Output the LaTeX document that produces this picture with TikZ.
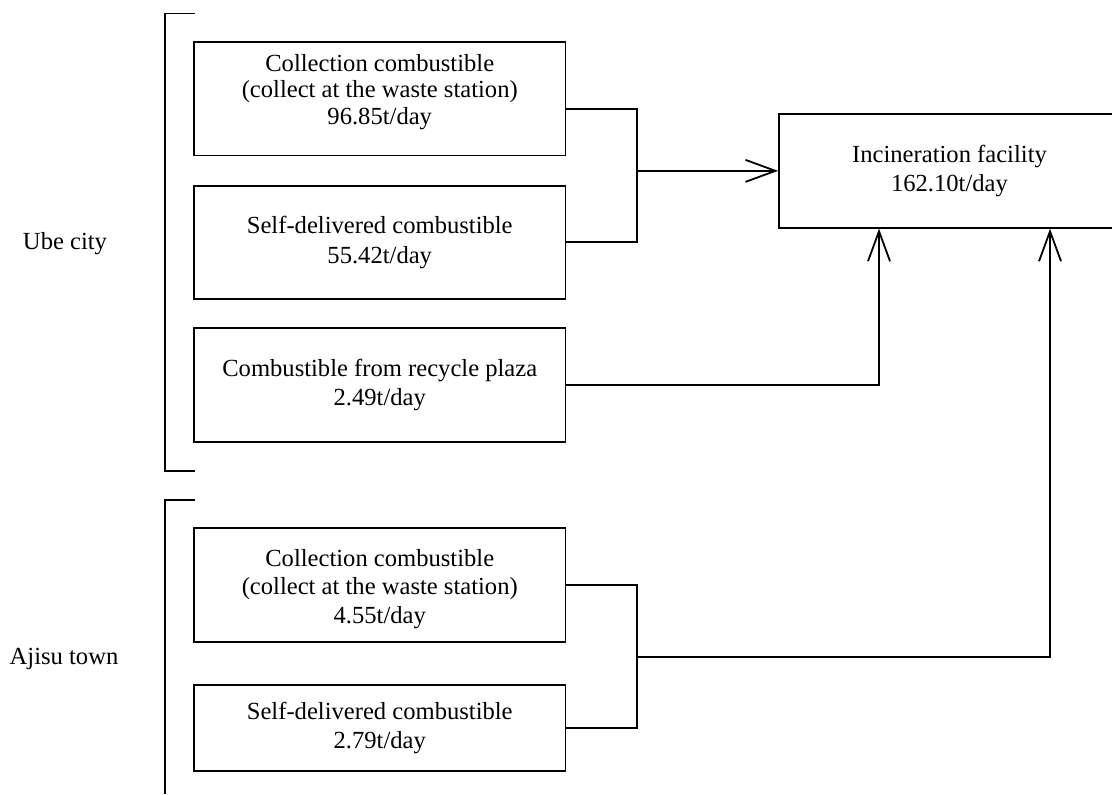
\documentclass[tikz,border=0pt]{standalone}
\usepackage{fontspec}
\setmainfont{Liberation Serif}
\usetikzlibrary{arrows.meta}
\begin{document}
\begin{tikzpicture}[x=0.5pt,y=-0.5pt,
  line width=0.9pt,
  every node/.style={font=\fontsize{12.3pt}{14.75pt}\selectfont},
  box/.style={draw, line width=0.9pt, align=center, inner sep=0pt},
  txt/.style={align=center, inner sep=0pt},
  arr/.style={-{Straight Barb[length=15pt,width=11pt,line width=0.9pt]}}
]
\useasboundingbox (0,0) rectangle (1112,794);
% brackets
\coordinate (ubeT) at (195,13.5);
\coordinate (ubeB) at (195,471);
\coordinate (ajiT) at (195,500);
\coordinate (ajiB) at (165,794);
\draw (ubeT) -- (165,13.5) -- (165,471) -- (ubeB);
\draw (ajiT) -- (165,500) -- (ajiB);
% group labels
\node[txt, anchor=base] (ube) at (65,249) {Ube city};
\node[txt, anchor=base] (ajisu) at (64,664) {Ajisu town};
% boxes
\node[box, minimum width=185.75pt, minimum height=56.75pt] (b1) at (379.75,98.75) {};
\node[txt, font=\fontsize{12.3pt}{13.3pt}\selectfont] (t1) at (379.75,92) {Collection combustible\\(collect at the waste station)\\96.85t/day};
\node[box, minimum width=185.75pt, minimum height=56.65pt] (b2) at (379.75,242.35) {Self-delivered combustible\\55.42t/day};
\node[box, minimum width=185.75pt, minimum height=57pt] (b3) at (379.75,385) {Combustible from recycle plaza\\2.49t/day};
\node[box, minimum width=185.75pt, minimum height=56.85pt] (b4) at (379.75,584.85) {};
\node[txt, font=\fontsize{12.3pt}{14.2pt}\selectfont] (t4) at (379.75,589) {Collection combustible\\(collect at the waste station)\\4.55t/day};
\node[box, minimum width=185.75pt, minimum height=42.85pt] (b5) at (379.75,727.85) {Self-delivered combustible\\2.79t/day};
\node[box, minimum width=170.5pt, minimum height=56.85pt] (inc) at (949.5,170.85) {Incineration facility\\162.10t/day};
% junctions
\coordinate (j1) at (637,170.85);
\coordinate (j2) at (637,657);
% connectors
\draw ([yshift=-5.1pt]b1.east) -| (j1) |- (b2.east);
\draw[arr] (j1) -- (inc.west);
\draw[arr] (b3.east) -| ([xshift=-35.25pt]inc.south);
\draw (b4.east) -| (j2) |- (b5.east);
\draw[arr] (j2) -| ([xshift=50.25pt]inc.south);
\end{tikzpicture}
\end{document}
